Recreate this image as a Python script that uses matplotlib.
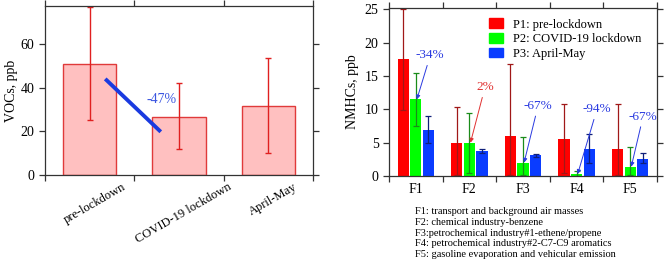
import matplotlib
matplotlib.use("Agg")
import numpy as np
from matplotlib import pyplot as plt
from matplotlib.patches import Patch
from matplotlib.transforms import ScaledTranslation

plt.rcParams['font.family'] = ['Liberation Serif', 'DejaVu Serif']

# left panel: total VOCs
periods = ["pre-lockdown", "COVID-19 lockdown", "April-May"]
voc_mean = [51.0, 26.7, 31.6]
voc_low = [25.0, 12.0, 10.0]
voc_high = [77.0, 42.0, 53.5]

# right panel: NMHC source factors
factors = ["F1", "F2", "F3", "F4", "F5"]
p1_mean = [17.5, 4.9, 6.0, 5.6, 4.1]
p1_low = [9.9, 0.1, 0.1, 0.5, 0.1]
p1_high = [25.0, 10.4, 16.8, 10.8, 10.8]
p2_mean = [11.5, 5.0, 2.0, 0.3, 1.4]
p2_low = [7.5, 0.5, 0.1, 0.0, 0.1]
p2_high = [15.5, 9.4, 5.9, 0.8, 4.3]
p3_mean = [6.9, 3.7, 3.1, 4.1, 2.6]
p3_low = [5.0, 3.4, 2.9, 2.0, 1.9]
p3_high = [9.0, 4.1, 3.3, 6.3, 3.4]
series_labels = ["P1: pre-lockdown", "P2: COVID-19 lockdown", "P3: April-May"]
change_labels = ["-34%", "2%", "-67%", "-94%", "-67%"]
footnotes = [
    "F1: transport and background air masses",
    "F2: chemical industry-benzene",
    "F3:petrochemical industry#1-ethene/propene",
    "F4: petrochemical industry#2-C7-C9 aromatics",
    "F5: gasoline evaporation and vehicular emission",
]

W, H = 664, 264
fig = plt.figure(figsize=(6.64, 2.64), dpi=100)


def px_axes(x0, y0, x1, y1):
    return fig.add_axes([x0 / W, 1 - y1 / H, (x1 - x0) / W, (y1 - y0) / H])


def style_axes(ax):
    for s in ax.spines.values():
        s.set_color("#333333")
        s.set_linewidth(0.9)
    ax.tick_params(which="major", direction="out", length=4, width=0.9,
                   color="#333333", top=True, right=True, labelsize=10)


# ---- left panel
ax1 = px_axes(45, 6, 313, 175)
x1 = np.arange(len(periods))
m = np.array(voc_mean)
ax1.bar(x1, m, width=0.6, color="#ffc0c0", edgecolor="#e03a3a", linewidth=1)
ax1.errorbar(x1, m, yerr=[m - np.array(voc_low), np.array(voc_high) - m],
             fmt="none", ecolor="#e02020", elinewidth=1, capsize=2.5, capthick=1)
ax1.plot([0.19, 0.78], [43.4, 20.4], color="#1a3ae0", linewidth=2.8)
ax1.text(0.8, 34.5, "-47%", color="#3a55e0", fontsize=10, ha="center", va="center")
ax1.set_xlim(-0.5, 2.5)
ax1.set_ylim(0, 77.4)
ax1.set_yticks([0, 20, 40, 60])
ax1.set_xticks([-0.5, 0.5, 1.5, 2.5])
ax1.set_xticklabels([])
ax1.set_xticks(x1, minor=True)
ax1.set_xticklabels(periods, minor=True, rotation=30, ha="center", fontsize=9)
ax1.tick_params(axis="x", which="minor", length=0, pad=4)
shift = ScaledTranslation(5 / 100, 0, fig.dpi_scale_trans)
for lbl in ax1.get_xticklabels(minor=True):
    lbl.set_transform(lbl.get_transform() + shift)
ax1.set_ylabel("VOCs, ppb", fontsize=10, labelpad=2)
style_axes(ax1)

# ---- right panel
ax2 = px_axes(389, 8, 657, 176)
x2 = np.arange(len(factors))
groups = [
    (p1_mean, p1_low, p1_high, "#ff0000", "#a01818", -0.235),
    (p2_mean, p2_low, p2_high, "#00ff00", "#1a8c1a", 0.0),
    (p3_mean, p3_low, p3_high, "#0a3cff", "#10207a", 0.235),
]
for (mean, low, high, col, ecol, off), lab in zip(groups, series_labels):
    mm = np.array(mean)
    ax2.bar(x2 + off, mm, width=0.21, color=col, label=lab)
    ax2.errorbar(x2 + off, mm, yerr=[mm - np.array(low), np.array(high) - mm],
                 fmt="none", ecolor=ecol, elinewidth=0.9, capsize=2, capthick=0.9)

text_pos = [(0.27, 18.1), (1.29, 13.3), (2.28, 10.5), (3.38, 10.0), (4.24, 8.9)]
for i, (lab, (tx, ty)) in enumerate(zip(change_labels, text_pos)):
    col = "#e03030" if not lab.startswith("-") else "#2a3ae0"
    ax2.annotate(lab, xy=(x2[i] + 0.02, p2_mean[i]), xytext=(tx, ty),
                 color=col, fontsize=9.5, ha="center", va="center",
                 arrowprops=dict(arrowstyle="-|>", color=col, lw=0.7,
                                 mutation_scale=6, shrinkA=1, shrinkB=0))

ax2.set_xlim(-0.5, 4.5)
ax2.set_ylim(0, 25.2)
ax2.set_yticks([0, 5, 10, 15, 20, 25])
ax2.set_xticks(np.arange(-0.5, 5.0, 1.0))
ax2.set_xticklabels([])
ax2.set_xticks(x2, minor=True)
ax2.set_xticklabels(factors, minor=True, fontsize=10)
ax2.tick_params(axis="x", which="minor", length=0, pad=5)
ax2.set_ylabel("NMHCs, ppb", fontsize=10, labelpad=4)
style_axes(ax2)

handles = [Patch(color=g[3]) for g in groups]
ax2.legend(handles, series_labels, loc="upper left", bbox_to_anchor=(0.34, 0.99),
           frameon=False, fontsize=9, handlelength=1.1, handleheight=0.8,
           handletextpad=0.8, labelspacing=0.2, borderaxespad=0.3)

for k, line in enumerate(footnotes):
    fig.text(415 / W, 1 - (212 + 10.6 * k) / H, line, fontsize=7.5,
             ha="left", va="center")

fig.savefig("out.png", dpi=100)
